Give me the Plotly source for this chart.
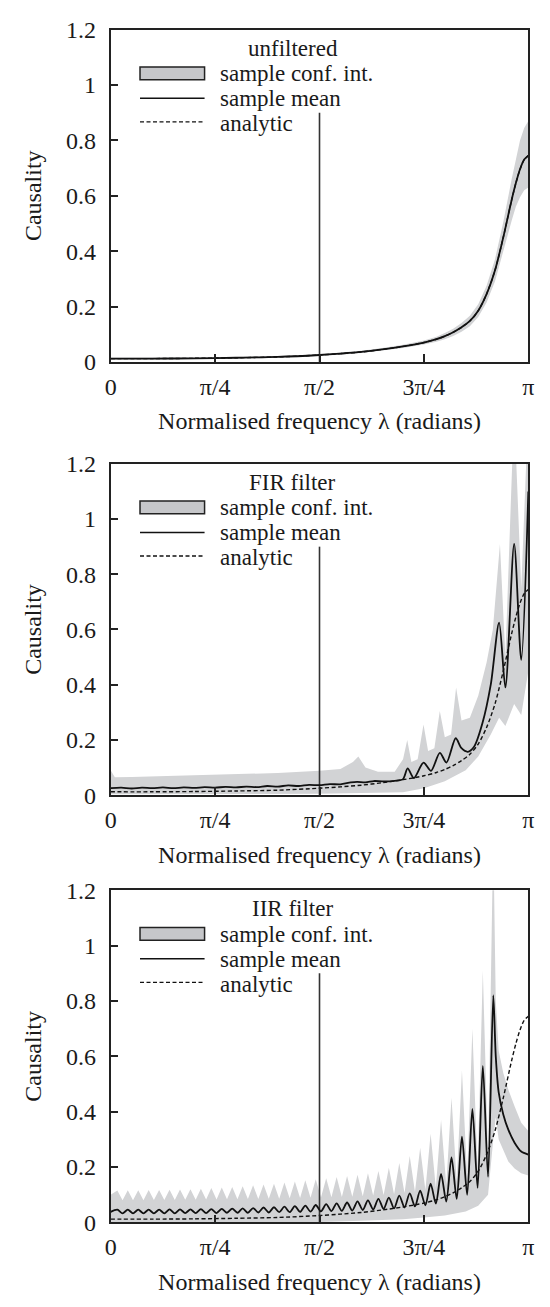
import numpy as np
import plotly.graph_objects as go

PI = np.pi

# ---------------- data (frequencies in units of pi) ----------------
# unfiltered
unf_x = [0.0, 0.1, 0.2, 0.3, 0.4, 0.5, 0.55, 0.6, 0.65, 0.7, 0.75, 0.78, 0.8, 0.82, 0.84,
         0.86, 0.88, 0.9, 0.92, 0.94, 0.96, 0.97, 0.98, 0.99, 1.0]
analytic = [0.012, 0.012, 0.013, 0.015, 0.018, 0.025, 0.030, 0.036, 0.045, 0.056, 0.070, 0.082,
            0.093, 0.107, 0.125, 0.148, 0.185, 0.245, 0.330, 0.450, 0.585, 0.645, 0.695, 0.730, 0.745]
unf_mean = [0.012, 0.012, 0.013, 0.015, 0.018, 0.025, 0.030, 0.036, 0.045, 0.056, 0.070, 0.082,
            0.093, 0.107, 0.125, 0.148, 0.185, 0.245, 0.330, 0.450, 0.585, 0.645, 0.696, 0.731, 0.745]
unf_hi = [0.015, 0.015, 0.016, 0.018, 0.021, 0.028, 0.034, 0.040, 0.050, 0.062, 0.077, 0.091,
          0.104, 0.120, 0.141, 0.167, 0.208, 0.275, 0.370, 0.505, 0.660, 0.735, 0.800, 0.845, 0.870]
unf_lo = [0.009, 0.009, 0.010, 0.012, 0.015, 0.022, 0.026, 0.032, 0.040, 0.050, 0.063, 0.073,
          0.082, 0.094, 0.109, 0.129, 0.162, 0.215, 0.290, 0.395, 0.510, 0.560, 0.595, 0.620, 0.630]

# FIR filter
fir_x = [0.000, 0.025, 0.050, 0.075, 0.100, 0.125, 0.150, 0.175, 0.200, 0.225, 0.250, 0.275,
         0.300, 0.325, 0.350, 0.375, 0.400, 0.425, 0.450, 0.475, 0.500, 0.525, 0.550, 0.575,
         0.590, 0.610, 0.630, 0.650, 0.680, 0.700, 0.711, 0.726, 0.749, 0.767, 0.788, 0.804,
         0.826, 0.840, 0.855, 0.870, 0.890, 0.910, 0.930, 0.945, 0.966, 0.983, 1.000]
fir_mean = [0.025, 0.027, 0.024, 0.027, 0.025, 0.028, 0.025, 0.028, 0.026, 0.029, 0.027, 0.030,
            0.028, 0.031, 0.029, 0.033, 0.031, 0.035, 0.033, 0.037, 0.036, 0.040, 0.039, 0.046,
            0.048, 0.046, 0.051, 0.050, 0.052, 0.058, 0.097, 0.062, 0.118, 0.088, 0.153, 0.118,
            0.206, 0.170, 0.157, 0.175, 0.26, 0.40, 0.625, 0.39, 0.91, 0.49, 1.10]
fir_hi_x = [0.000, 0.010, 0.050, 0.100, 0.200, 0.300, 0.400, 0.500, 0.550, 0.580, 0.593, 0.610,
            0.640, 0.680, 0.700, 0.710, 0.720, 0.735, 0.749, 0.760, 0.775, 0.788, 0.800, 0.815,
            0.827, 0.840, 0.860, 0.880, 0.900, 0.915, 0.932, 0.945, 0.966, 0.983, 1.000]
fir_hi = [0.090, 0.065, 0.066, 0.068, 0.070, 0.075, 0.080, 0.088, 0.095, 0.120, 0.140, 0.100,
          0.085, 0.085, 0.130, 0.200, 0.120, 0.130, 0.256, 0.160, 0.170, 0.305, 0.210, 0.220,
          0.390, 0.270, 0.280, 0.360, 0.480, 0.600, 0.910, 0.500, 1.400, 0.750, 1.400]
fir_lo_x = [0.000, 0.500, 0.700, 0.750, 0.800, 0.850, 0.880, 0.910, 0.930, 0.945, 0.966, 0.983, 1.000]
fir_lo = [0.003, 0.005, 0.010, 0.025, 0.050, 0.090, 0.140, 0.220, 0.280, 0.250, 0.330, 0.290, 0.450]

# IIR filter (alternating ripple troughs / peaks)
iir_x = [0.000, 0.016, 0.0285, 0.041, 0.0535, 0.066, 0.0785, 0.091, 0.1035, 0.116, 0.1285,
         0.141, 0.1535, 0.166, 0.1785, 0.191, 0.2035, 0.216, 0.2285, 0.241, 0.2535, 0.266,
         0.2785, 0.291, 0.3035, 0.316, 0.3285, 0.341, 0.3535, 0.366, 0.3785, 0.391, 0.4035,
         0.416, 0.4285, 0.441, 0.4535, 0.466, 0.4785, 0.491, 0.5035, 0.516, 0.5285, 0.541,
         0.5535, 0.566, 0.5785, 0.591, 0.6035, 0.616, 0.6285, 0.641, 0.6535, 0.666, 0.6785,
         0.691, 0.7035, 0.716, 0.7285, 0.741, 0.7535, 0.766, 0.7785, 0.791, 0.8035, 0.816,
         0.8285, 0.841, 0.8535, 0.866, 0.8785, 0.891, 0.9035, 0.916,
         0.922, 0.929, 0.940, 0.952, 0.967, 0.983, 1.000]
iir_mean = [0.038, 0.046, 0.033, 0.046, 0.033, 0.046, 0.033, 0.046, 0.033, 0.046, 0.033,
            0.047, 0.033, 0.047, 0.034, 0.047, 0.034, 0.048, 0.034, 0.048, 0.034, 0.049,
            0.035, 0.050, 0.035, 0.051, 0.035, 0.052, 0.036, 0.054, 0.036, 0.055, 0.037,
            0.057, 0.037, 0.059, 0.038, 0.061, 0.039, 0.063, 0.040, 0.066, 0.041, 0.069,
            0.042, 0.072, 0.043, 0.076, 0.045, 0.080, 0.047, 0.085, 0.049, 0.090, 0.051,
            0.097, 0.054, 0.105, 0.058, 0.115, 0.062, 0.140, 0.068, 0.175, 0.075, 0.235,
            0.085, 0.310, 0.100, 0.410, 0.125, 0.565, 0.165, 0.820,
            0.600, 0.470, 0.390, 0.335, 0.288, 0.256, 0.245]
iir_hi = [0.100, 0.115, 0.080, 0.116, 0.080, 0.116, 0.080, 0.117, 0.081, 0.117, 0.081,
          0.118, 0.081, 0.119, 0.082, 0.120, 0.082, 0.122, 0.083, 0.124, 0.083, 0.126,
          0.084, 0.128, 0.084, 0.131, 0.085, 0.134, 0.085, 0.137, 0.086, 0.140, 0.086,
          0.144, 0.087, 0.148, 0.088, 0.152, 0.089, 0.156, 0.090, 0.160, 0.091, 0.164,
          0.092, 0.168, 0.093, 0.172, 0.095, 0.178, 0.097, 0.186, 0.099, 0.198, 0.102,
          0.215, 0.106, 0.240, 0.111, 0.270, 0.117, 0.320, 0.125, 0.370, 0.135, 0.450,
          0.148, 0.550, 0.165, 0.700, 0.190, 0.910, 0.240, 1.400,
          0.800, 0.620, 0.540, 0.480, 0.420, 0.360, 0.330]
iir_lo_x = [0.000, 0.300, 0.500, 0.600, 0.700, 0.750, 0.800, 0.850, 0.880, 0.9035, 0.916,
            0.922, 0.929, 0.940, 0.952, 0.967, 0.983, 1.000]
iir_lo = [0.000, 0.000, 0.002, 0.006, 0.012, 0.018, 0.025, 0.040, 0.060, 0.100, 0.300,
          0.380, 0.300, 0.260, 0.220, 0.195, 0.178, 0.170]

vline_x = [0.5, 0.5]
vline_y = [0.0, 0.9]

x_tickvals = [0, 0.25, 0.5, 0.75, 1.0]
x_ticktext = ["0", "π/4", "π/2", "3π/4", "π"]
y_tickvals = [0, 0.2, 0.4, 0.6, 0.8, 1.0, 1.2]
y_ticktext = ["0", "0.2", "0.4", "0.6", "0.8", "1", "1.2"]

titles = ["unfiltered", "FIR filter", "IIR filter"]

panels = [
    dict(hi_x=unf_x, hi=unf_hi, lo_x=unf_x, lo=unf_lo, mx=unf_x, mean=unf_mean),
    dict(hi_x=fir_hi_x, hi=fir_hi, lo_x=fir_lo_x, lo=fir_lo, mx=fir_x, mean=fir_mean),
    dict(hi_x=iir_x, hi=iir_hi, lo_x=iir_lo_x, lo=iir_lo, mx=iir_x, mean=iir_mean),
]

# ---------------- layout geometry (pixels) ----------------
W, H = 550, 1307
X0, X1 = 107, 534
frames = [(17, 356), (460, 798), (895, 1234)]

FONT = "Liberation Serif, Times New Roman, serif"
TXT = "#1a1a1a"
BAND = "#d2d3d5"
LEG = 23

fig = go.Figure()
layout = dict(width=W, height=H, margin=dict(l=0, r=0, t=0, b=0),
              paper_bgcolor="white", plot_bgcolor="white", showlegend=False,
              font=dict(family=FONT, size=24, color=TXT))
shapes = []
annotations = []

for i, p in enumerate(panels):
    n = "" if i == 0 else str(i + 1)
    xa, ya = "x" + n, "y" + n
    top, bot = frames[i]
    layout["xaxis" + n] = dict(
        domain=[X0 / W, X1 / W], range=[0, PI], anchor=ya,
        tickvals=[v * PI for v in x_tickvals], ticktext=x_ticktext,
        ticks="inside", ticklen=8, tickwidth=1.5, tickcolor="#222",
        showline=True, linewidth=1.8, linecolor="#222", mirror=True,
        showgrid=False, zeroline=False, ticklabelstandoff=2,
        tickfont=dict(family=FONT, size=24, color=TXT),
        title=dict(text="Normalised frequency λ (radians)", standoff=14,
                   font=dict(family=FONT, size=24, color=TXT)))
    layout["yaxis" + n] = dict(
        domain=[1 - bot / H, 1 - top / H], range=[0, 1.2], anchor=xa,
        tickvals=y_tickvals, ticktext=y_ticktext,
        ticks="inside", ticklen=7, tickwidth=1.5, tickcolor="#222",
        showline=True, linewidth=1.8, linecolor="#222", mirror=True,
        showgrid=False, zeroline=False, ticklabelstandoff=8,
        tickfont=dict(family=FONT, size=24, color=TXT),
        title=dict(text="Causality", standoff=18,
                   font=dict(family=FONT, size=24, color=TXT)))

    bx = [v * PI for v in p["hi_x"]] + [v * PI for v in p["lo_x"][::-1]]
    by = list(p["hi"]) + list(p["lo"][::-1])
    fig.add_trace(go.Scatter(x=bx, y=by, mode="lines", fill="toself", fillcolor=BAND,
                             line=dict(width=0, color=BAND), xaxis=xa, yaxis=ya,
                             name="sample conf. int.", hoverinfo="skip"))
    fig.add_trace(go.Scatter(x=[v * PI for v in vline_x], y=vline_y, mode="lines",
                             line=dict(color="#333", width=1.6), xaxis=xa, yaxis=ya,
                             hoverinfo="skip"))
    fig.add_trace(go.Scatter(x=[v * PI for v in unf_x], y=analytic, mode="lines",
                             line=dict(color="#111", width=1.4, dash="4px,2.5px", shape="spline",
                                       smoothing=0.8),
                             xaxis=xa, yaxis=ya, name="analytic"))
    fig.add_trace(go.Scatter(x=[v * PI for v in p["mx"]], y=p["mean"], mode="lines",
                             line=dict(color="#111", width=1.8, shape="spline", smoothing=0.8),
                             xaxis=xa, yaxis=ya, name="sample mean"))

    # legend drawn inside the panel
    xd, yd = xa + " domain", ya + " domain"
    ph, pw = bot - top, X1 - X0
    fx = lambda px: px / pw
    fy = lambda py: 1 - py / ph
    annotations.append(dict(xref=xd, yref=yd, x=fx(186), y=fy(19), text=titles[i],
                            showarrow=False, xanchor="center", yanchor="middle",
                            font=dict(family=FONT, size=LEG, color=TXT)))
    shapes.append(dict(type="rect", xref=xd, yref=yd, x0=fx(30), x1=fx(96),
                       y0=fy(38), y1=fy(51), fillcolor="#c6c7ca",
                       line=dict(color="#222", width=1.5)))
    shapes.append(dict(type="line", xref=xd, yref=yd, x0=fx(30), x1=fx(96),
                       y0=fy(70), y1=fy(70), line=dict(color="#111", width=1.6)))
    shapes.append(dict(type="line", xref=xd, yref=yd, x0=fx(30), x1=fx(96),
                       y0=fy(94), y1=fy(94), line=dict(color="#111", width=1.3, dash="4px,2.5px")))
    for ty, tt in [(45, "sample conf. int."), (70.5, "sample mean"), (96, "analytic")]:
        annotations.append(dict(xref=xd, yref=yd, x=fx(110), y=fy(ty), text=tt,
                                showarrow=False, xanchor="left", yanchor="middle",
                                font=dict(family=FONT, size=LEG, color=TXT)))

layout["shapes"] = shapes
layout["annotations"] = annotations
fig.update_layout(**layout)
fig.write_html("out.html")
